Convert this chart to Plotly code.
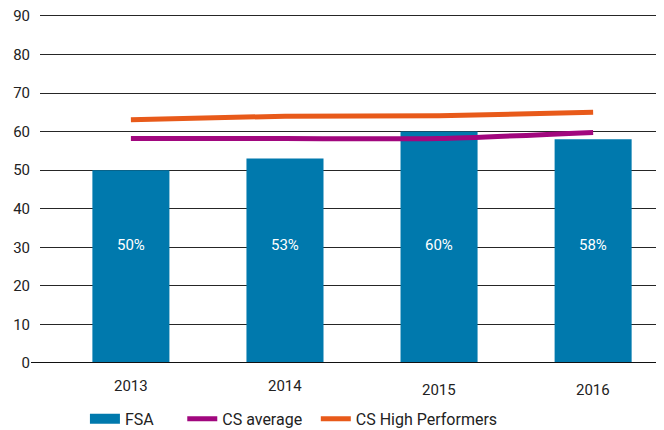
import plotly.graph_objects as go

years = ["2013", "2014", "2015", "2016"]
fsa = [50.0, 53.0, 60.0, 58.0]
fsa_labels = ["50%", "53%", "60%", "58%"]
cs_average = [58.2, 58.2, 58.2, 59.8]
cs_high = [63.1, 64.0, 64.1, 65.0]
y_ticks = [0, 10, 20, 30, 40, 50, 60, 70, 80, 90]

_FONT = "Roboto, Arial, sans-serif"
_TEXT = "#222222"
_COLORS = {"fsa": "#0079AD", "avg": "#A1077E", "high": "#E85A1A"}

fig = go.Figure()
fig.add_trace(
    go.Bar(
        name="FSA",
        x=years,
        y=fsa,
        width=0.5,
        marker=dict(color=_COLORS["fsa"], line_width=0),
        showlegend=False,
    )
)
# 凡例用（元図の横長の四角に近づける）
fig.add_trace(
    go.Scatter(
        name="FSA",
        x=[None],
        y=[None],
        mode="lines",
        line=dict(color=_COLORS["fsa"], width=14),
        legend="legend",
    )
)
fig.add_trace(
    go.Scatter(
        name="CS average",
        x=years,
        y=cs_average,
        mode="lines",
        line=dict(color=_COLORS["avg"], width=5, shape="spline", smoothing=0.6),
        legend="legend2",
    )
)
fig.add_trace(
    go.Scatter(
        name="CS High Performers",
        x=years,
        y=cs_high,
        mode="lines",
        line=dict(color=_COLORS["high"], width=5, shape="spline", smoothing=0.6),
        legend="legend3",
    )
)

# 棒の中の%ラベル
for i, lab in enumerate(fsa_labels):
    fig.add_annotation(
        x=i, y=30.5, text=lab, showarrow=False,
        font=dict(family=_FONT, size=15, color="white"),
    )

# 年ラベル（元図では後半2つが少し下がっている）
for i, yr in enumerate(years):
    fig.add_annotation(
        x=i, y=0, yref="y", text=yr, showarrow=False,
        yanchor="top", yshift=-12 if i < 2 else -16,
        font=dict(family=_FONT, size=15, color=_TEXT),
    )

leg = dict(
    orientation="h", yanchor="middle", y=-0.16, xanchor="left",
    font=dict(family=_FONT, size=16, color=_TEXT),
    bgcolor="rgba(0,0,0,0)",
)
# ページ側の余白(8px)を見込んで少し小さめにする
fig.update_layout(
    width=656,
    height=422,
    margin=dict(l=32, r=0, t=6, b=67, autoexpand=False),
    paper_bgcolor="white",
    plot_bgcolor="white",
    font=dict(family=_FONT, size=15, color=_TEXT),
    showlegend=True,
    legend=dict(leg, x=0.072),
    legend2=dict(leg, x=0.228),
    legend3=dict(leg, x=0.442),
    xaxis=dict(
        type="category",
        range=[-0.59, 3.46],
        showticklabels=False,
        showgrid=False,
        zeroline=False,
        showline=False,
        ticks="",
    ),
    yaxis=dict(
        range=[0, 90.5],
        tickvals=y_ticks,
        gridcolor="#262626",
        gridwidth=1,
        zeroline=False,
        showline=False,
        ticks="",
        ticklabelstandoff=9,
        ticklabeloverflow="allow",
        tickfont=dict(family=_FONT, size=15, color=_TEXT),
    ),
)
# ゼロライン（太め、左に少しはみ出す）
fig.add_shape(
    type="line", xref="paper", yref="y", x0=-0.0144, x1=1, y0=0, y1=0,
    line=dict(color="#111111", width=2), layer="above",
)

fig.write_html("out.html")
